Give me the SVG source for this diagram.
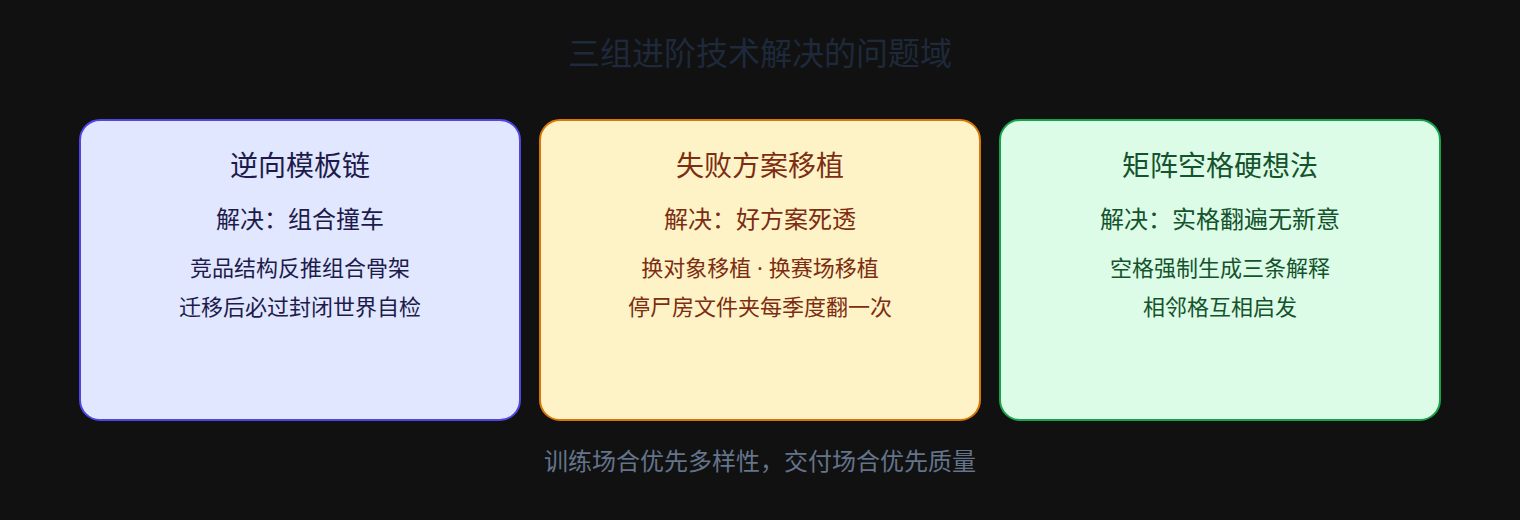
<svg xmlns="http://www.w3.org/2000/svg" width="1520" height="520" viewBox="0 0 1520 520">
<style>
text{font-family:"Noto Sans","Noto Sans CJK SC",sans-serif;text-anchor:middle}
.title{font-size:32px;fill:#1e293b}
.foot{font-size:24px;fill:#64748b}
.h{font-size:28px}
.s{font-size:24px}
.l{font-size:22px}
.box{stroke-width:2}
#n1 rect{fill:#e0e7ff;stroke:#4f46e5}
#n1 text{fill:#1e1b4b}
#n2 rect{fill:#fef3c7;stroke:#d97706}
#n2 text{fill:#7c2d12}
#n3 rect{fill:#dcfce7;stroke:#16a34a}
#n3 text{fill:#14532d}
</style>
<rect width="1520" height="520" fill="#111111"/>
<text class="title" x="760" y="65">三组进阶技术解决的问题域</text>
<g id="connectors"></g>
<g id="n1">
<rect class="box" x="80" y="120" width="440" height="300" rx="20"/>
<text class="h" x="300" y="176">逆向模板链</text>
<text class="s" x="300" y="228">解决：组合撞车</text>
<text class="l" x="300" y="276">竞品结构反推组合骨架</text>
<text class="l" x="300" y="315">迁移后必过封闭世界自检</text>
</g>
<g id="n2">
<rect class="box" x="540" y="120" width="440" height="300" rx="20"/>
<text class="h" x="760" y="176">失败方案移植</text>
<text class="s" x="760" y="228">解决：好方案死透</text>
<text class="l" x="760" y="276">换对象移植 · 换赛场移植</text>
<text class="l" x="760" y="315">停尸房文件夹每季度翻一次</text>
</g>
<g id="n3">
<rect class="box" x="1000" y="120" width="440" height="300" rx="20"/>
<text class="h" x="1220" y="176">矩阵空格硬想法</text>
<text class="s" x="1220" y="228">解决：实格翻遍无新意</text>
<text class="l" x="1220" y="276">空格强制生成三条解释</text>
<text class="l" x="1220" y="315">相邻格互相启发</text>
</g>
<text class="foot" x="760" y="470">训练场合优先多样性，交付场合优先质量</text>
</svg>
